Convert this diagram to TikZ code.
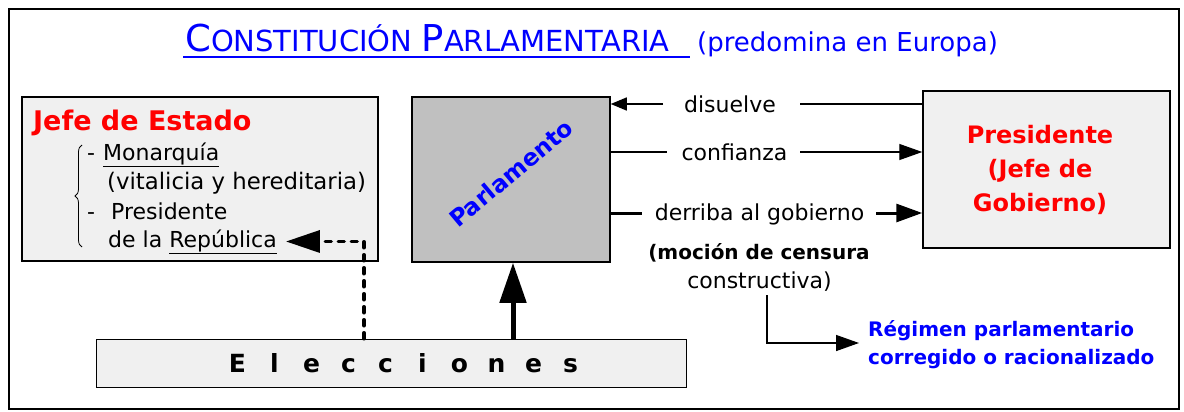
\documentclass[tikz,border=0pt]{standalone}
\usepackage{fontspec}
\setmainfont{DejaVu Sans}
\usetikzlibrary{arrows.meta,decorations.pathreplacing}
\definecolor{titleblue}{RGB}{0,0,255}
\definecolor{headred}{RGB}{255,0,0}
\definecolor{lightbox}{RGB}{240,240,240}
\definecolor{parlgray}{RGB}{192,192,192}
\newcommand{\fsz}[2]{\fontsize{#1}{#2}\selectfont}
\newcommand{\elet}[1]{\makebox[37pt]{#1}}
\begin{document}
\begin{tikzpicture}[x=1pt,y=-1pt,
  box/.style={draw=black, line width=1.5pt, fill=lightbox, inner sep=0pt},
  txt/.style={inner sep=0pt, font=\fsz{22}{22}},
  ln/.style={line width=1.4pt},
  thk/.style={line width=3pt},
  arrs/.style={line width=1.4pt, -{Triangle[length=16pt,width=13pt]}},
  arrm/.style={line width=1.4pt, -{Triangle[length=23pt,width=16pt]}},
  arrt/.style={line width=3pt, -{Triangle[length=26pt,width=18pt]}},
  dsh/.style={line width=3.5pt, line cap=round, dash pattern=on 6pt off 7pt, -{Triangle[length=34pt,width=22pt]}}
]
\useasboundingbox (0,0) rectangle (1184,412);
\node[draw, line width=2pt, minimum width=1170pt, minimum height=400pt, inner sep=0pt] (frame) at (594,209) {};

% title
\node[anchor=base west, inner sep=0pt, text=titleblue] (title) at (185,52)
  {\fsz{37}{37}C\fsz{29}{29}ONSTITUCIÓN \fsz{37}{37}P\fsz{29}{29}ARLAMENTARIA};
\draw[titleblue, line width=2pt] (title.base west) ++(-2,5) -- ++(507,0);
\node[anchor=base west, inner sep=0pt, text=titleblue, font=\fsz{26}{26}] (sub) at (697,52) {(predomina en Europa)};

% boxes
\node[box, minimum width=356pt, minimum height=164pt] (jefe) at (200,179) {};
\node[box, fill=parlgray, minimum width=198pt, minimum height=165pt] (parl) at (511,179.5) {};
\node[box, minimum width=247pt, minimum height=157pt] (pres) at (1046.5,169.5) {};
\node[box, minimum width=590pt, minimum height=48pt] (elec) at (391.5,363.5) {};

% Jefe de Estado content
\node[anchor=base west, inner sep=0pt, text=headred, font=\fsz{27}{27}\bfseries] (jefet) at (33,130) {Jefe de Estado};
\node[anchor=base west, txt] (mon) at (87,160) {\makebox[16pt][l]{-}\underline{Monarquía}};
\node[anchor=base west, txt, font=\fsz{22.8}{22.8}] (vit) at (107,189) {(vitalicia y hereditaria)};
\node[anchor=base west, txt] (presr) at (87,219) {\makebox[24pt][l]{-}Presidente};
\node[anchor=base west, txt] (rep) at (108,247) {de la \underline{República}};
\draw[line width=0.8pt, decorate, decoration={brace, amplitude=7pt}] (82,247) -- (82,145);

% Parlamento
\node[rotate=40, text=titleblue, font=\fsz{23.5}{23.5}\bfseries, inner sep=0pt] (parlt) at (511,173) {Parlamento};

% Presidente
\node[text=headred, font=\fsz{24}{34}\bfseries, align=center, inner sep=0pt] (prest) at (1040,170) {Presidente\\(Jefe de\\Gobierno)};

% labels
\node[anchor=base, txt] (dis) at (730,112) {disuelve};
\node[anchor=base, txt] (conf) at (734.5,160) {confianza};
\node[anchor=base, txt] (der) at (759.5,220) {derriba al gobierno};
\node[anchor=base, inner sep=0pt, font=\fsz{20}{20}\bfseries] (mocion) at (759,259) {(moción de censura};
\node[anchor=base, txt] (constr) at (759.5,288) {constructiva)};
\node[anchor=base west, inner sep=0pt, text=titleblue, font=\fsz{20}{20}\bfseries] (reg1) at (868,336) {Régimen parlamentario};
\node[anchor=base west, inner sep=0pt, text=titleblue, font=\fsz{20}{20}\bfseries] (reg2) at (868,364) {corregido o racionalizado};

% Elecciones
\node[inner sep=0pt, font=\fsz{25}{25}\bfseries] (elect) at (404,363.5)
  {\elet{E}\elet{l}\elet{e}\elet{c}\elet{c}\elet{i}\elet{o}\elet{n}\elet{e}\elet{s}};

% coordinates
\coordinate (ydis) at (0,104);
\coordinate (yconf) at (0,152);
\coordinate (yder) at (0,213);
\coordinate (disA) at (663,104);
\coordinate (disB) at (800,104);
\coordinate (confA) at (667,152);
\coordinate (confB) at (800,152);
\coordinate (derA) at (642,213);
\coordinate (derB) at (876,213);
\coordinate (regA) at (767,295);
\coordinate (elx) at (513,0);
\coordinate (dashx) at (364,0);

% connectors
\draw[ln] (pres.west |- ydis) -- (disB);
\draw[arrs] (disA) -- (parl.east |- ydis);
\draw[ln] (parl.east |- yconf) -- (confA);
\draw[arrm] (confB) -- (pres.west |- yconf);
\draw[thk] (parl.east |- yder) -- (derA);
\draw[arrt] (derB) -- (pres.west |- yder);
\draw[arrm] (regA) |- ([shift={(-9,7)}]reg1.base west);
\draw[line width=5pt, -{Triangle[length=40pt,width=26pt]}] (elec.north -| elx) -- (elx |- parl.south);
\draw[dsh] (elec.north -| dashx) |- ([xshift=9pt]rep.east);
\end{tikzpicture}
\end{document}
